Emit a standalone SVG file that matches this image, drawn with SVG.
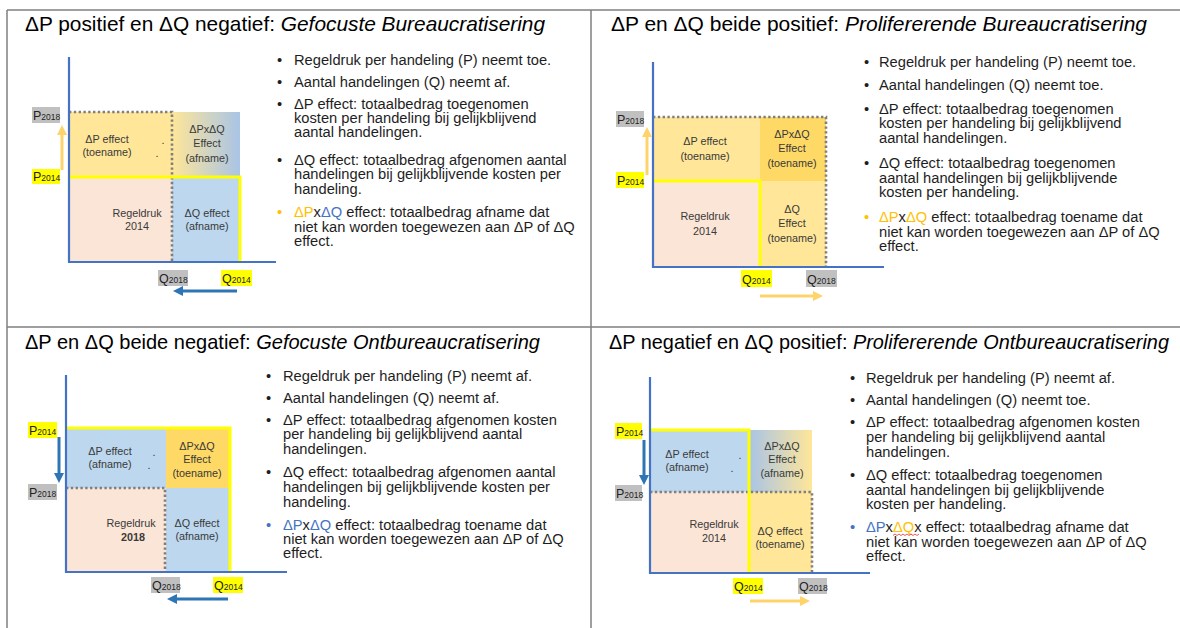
<svg xmlns="http://www.w3.org/2000/svg" width="1180" height="628" viewBox="0 0 1180 628">
<style>
.frame{stroke:#7f7f7f;stroke-width:1.5;fill:none}
.axis{stroke:#4472C4;stroke-width:2.2;fill:none}
.yl{stroke:#FFFF00;stroke-width:3;fill:none}
.dt{stroke:#7F7F7F;stroke-width:2.6;stroke-dasharray:2.4 2.4;fill:none}
.title{font-family:"Liberation Sans",Arial,sans-serif;font-size:21px;fill:#000}
.body{font-family:"Liberation Sans",Arial,sans-serif;font-size:14.7px;fill:#1e1e1e}
.lbl{font-family:"Liberation Sans",Arial,sans-serif;font-size:10.8px;fill:#3a3a3a;text-anchor:middle}
.tag{font-family:"Liberation Sans",Arial,sans-serif;fill:#222}
.big{font-size:12.5px}
.sm{font-size:8.5px}
.gbox{fill:#C0C0C0}
.ybox{fill:#FFFF00}
.peach{fill:#FBE5D6}
.ly{fill:#FFE699}
.dy{fill:#FFD966}
.lb{fill:#BDD7EE}
.ya{stroke:#FFD36B;stroke-width:3;fill:none}
.ba{stroke:#2E75B6;stroke-width:3;fill:none}
.or{fill:#FFC000}
.bl{fill:#4472C4}
</style>
<defs>
<linearGradient id="g1" x1="0" y1="0" x2="1" y2="0"><stop offset="0" stop-color="#FFE699"/><stop offset="1" stop-color="#A9C4E6"/></linearGradient>
<linearGradient id="g4" x1="0" y1="0" x2="1" y2="0"><stop offset="0" stop-color="#A9C4E6"/><stop offset="1" stop-color="#FFE699"/></linearGradient>
<marker id="hy" viewBox="0 0 10 10" refX="2" refY="5" markerWidth="10" markerHeight="11" markerUnits="userSpaceOnUse" orient="auto"><path d="M0,0 L10,5 L0,10 z" fill="#FFD36B"/></marker>
<marker id="hb" viewBox="0 0 10 10" refX="2" refY="5" markerWidth="10" markerHeight="11" markerUnits="userSpaceOnUse" orient="auto"><path d="M0,0 L10,5 L0,10 z" fill="#2E75B6"/></marker>
</defs>

<g id="frame">
<line class="frame" x1="7" y1="10" x2="1180" y2="10"/>
<line class="frame" x1="7" y1="10" x2="7" y2="628"/>
<line class="frame" x1="591" y1="10" x2="591" y2="628"/>
<line class="frame" x1="7" y1="327" x2="1180" y2="327"/>
</g>

<!-- Quadrant 1 -->
<g id="q1">
<text class="title" x="25" y="31" textLength="520" lengthAdjust="spacingAndGlyphs">ΔP positief en ΔQ negatief: <tspan font-style="italic">Gefocuste Bureaucratisering</tspan></text>
<g id="q1-chart">
<rect class="ly" x="69" y="112" width="103" height="65"/>
<rect fill="url(#g1)" x="172" y="112" width="68" height="65"/>
<rect class="peach" x="69" y="177" width="103" height="85"/>
<rect class="lb" x="172" y="177" width="68" height="85"/>
<polyline class="dt" points="69,112 172,112 172,262"/>
<polyline class="yl" points="69,177 240,177 240,262"/>
<polyline class="axis" points="69,57 69,262 276,262"/>
<text class="lbl" x="107" y="143">ΔP effect</text>
<text class="lbl" x="107" y="156">(toename)</text>
<text class="lbl" x="163" y="144">.</text>
<text class="lbl" x="157" y="157">.</text>
<text class="lbl" x="207" y="133">ΔPxΔQ</text>
<text class="lbl" x="207" y="147">Effect</text>
<text class="lbl" x="207" y="162">(afname)</text>
<text class="lbl" x="137" y="217">Regeldruk</text>
<text class="lbl" x="137" y="230">2014</text>
<text class="lbl" x="207" y="217">ΔQ effect</text>
<text class="lbl" x="207" y="230">(afname)</text>
<rect class="gbox" x="32" y="107" width="28" height="16"/>
<text class="tag" x="33" y="120"><tspan class="big">P</tspan><tspan class="sm">2018</tspan></text>
<rect class="ybox" x="32" y="169" width="28" height="15"/>
<text class="tag" x="33" y="181"><tspan class="big">P</tspan><tspan class="sm">2014</tspan></text>
<rect class="gbox" x="158" y="270" width="30" height="16"/>
<text class="tag" x="159" y="283"><tspan class="big">Q</tspan><tspan class="sm">2018</tspan></text>
<rect class="ybox" x="221" y="270" width="31" height="16"/>
<text class="tag" x="222" y="283"><tspan class="big">Q</tspan><tspan class="sm">2014</tspan></text>
</g>
<g id="q1-text" class="body">
<text x="277" y="65">•</text><text x="294" y="65">Regeldruk per handeling (P) neemt toe.</text>
<text x="277" y="87">•</text><text x="294" y="87">Aantal handelingen (Q) neemt af.</text>
<text x="277" y="109">•</text><text x="294" y="109">ΔP effect: totaalbedrag toegenomen</text>
<text x="294" y="123">kosten per handeling bij gelijkblijvend</text>
<text x="294" y="137">aantal handelingen.</text>
<text x="277" y="165">•</text><text x="294" y="165">ΔQ effect: totaalbedrag afgenomen aantal</text>
<text x="294" y="179">handelingen bij gelijkblijvende kosten per</text>
<text x="294" y="194">handeling.</text>
<text x="277" y="217" class="or">•</text><text x="294" y="217"><tspan class="or">ΔP</tspan>x<tspan class="bl">ΔQ</tspan> effect: totaalbedrag afname dat</text>
<text x="294" y="232">niet kan worden toegewezen aan ΔP of ΔQ</text>
<text x="294" y="246">effect.</text>
</g>
</g>

<!-- Quadrant 2 -->
<g id="q2">
<text class="title" x="611" y="31" textLength="536" lengthAdjust="spacingAndGlyphs">ΔP en ΔQ beide positief: <tspan font-style="italic">Prolifererende Bureaucratisering</tspan></text>
<g id="q2-chart">
<rect class="ly" x="653" y="117" width="107" height="64"/>
<rect class="dy" x="760" y="117" width="66" height="64"/>
<rect class="peach" x="653" y="181" width="107" height="86"/>
<rect class="ly" x="760" y="181" width="66" height="86"/>
<polyline class="dt" points="653,117 826,117 826,267"/>
<polyline class="yl" points="653,181 760,181 760,267"/>
<polyline class="axis" points="653,62 653,267 884,267"/>
<text class="lbl" x="705" y="145">ΔP effect</text>
<text class="lbl" x="705" y="160">(toename)</text>
<text class="lbl" x="792" y="138">ΔPxΔQ</text>
<text class="lbl" x="792" y="152">Effect</text>
<text class="lbl" x="792" y="167">(toename)</text>
<text class="lbl" x="705" y="220">Regeldruk</text>
<text class="lbl" x="705" y="235">2014</text>
<text class="lbl" x="792" y="213">ΔQ</text>
<text class="lbl" x="792" y="227">Effect</text>
<text class="lbl" x="792" y="242">(toename)</text>
<rect class="gbox" x="616" y="111" width="28" height="16"/>
<text class="tag" x="617" y="124"><tspan class="big">P</tspan><tspan class="sm">2018</tspan></text>
<rect class="ybox" x="616" y="172" width="28" height="16"/>
<text class="tag" x="617" y="185"><tspan class="big">P</tspan><tspan class="sm">2014</tspan></text>
<rect class="ybox" x="741" y="270" width="31" height="17"/>
<text class="tag" x="742" y="284"><tspan class="big">Q</tspan><tspan class="sm">2014</tspan></text>
<rect class="gbox" x="806" y="270" width="31" height="17"/>
<text class="tag" x="807" y="284"><tspan class="big">Q</tspan><tspan class="sm">2018</tspan></text>
</g>
<g id="q2-text" class="body">
<text x="864" y="67">•</text><text x="879" y="67">Regeldruk per handeling (P) neemt toe.</text>
<text x="864" y="90">•</text><text x="879" y="90">Aantal handelingen (Q) neemt toe.</text>
<text x="864" y="114">•</text><text x="879" y="114">ΔP effect: totaalbedrag toegenomen</text>
<text x="879" y="128">kosten per handeling bij gelijkblijvend</text>
<text x="879" y="143">aantal handelingen.</text>
<text x="864" y="168">•</text><text x="879" y="168">ΔQ effect: totaalbedrag toegenomen</text>
<text x="879" y="183">aantal handelingen bij gelijkblijvende</text>
<text x="879" y="197">kosten per handeling.</text>
<text x="864" y="222" class="or">•</text><text x="879" y="222"><tspan class="or">ΔP</tspan>x<tspan class="or">ΔQ</tspan> effect: totaalbedrag toename dat</text>
<text x="879" y="237">niet kan worden toegewezen aan ΔP of ΔQ</text>
<text x="879" y="251">effect.</text>
</g>
</g>

<!-- Quadrant 3 -->
<g id="q3">
<text class="title" x="25" y="349" textLength="515" lengthAdjust="spacingAndGlyphs">ΔP en ΔQ beide negatief: <tspan font-style="italic">Gefocuste Ontbureaucratisering</tspan></text>
<g id="q3-chart">
<rect class="lb" x="66" y="428" width="100" height="60"/>
<rect class="dy" x="166" y="428" width="64" height="60"/>
<rect class="peach" x="66" y="488" width="100" height="84"/>
<rect class="lb" x="166" y="488" width="64" height="84"/>
<polyline class="dt" points="66,488 165,488 165,572"/>
<polyline class="yl" points="66,428 230,428 230,572"/>
<polyline class="axis" points="66,375 66,572 287,572"/>
<text class="lbl" x="110" y="455">ΔP effect</text>
<text class="lbl" x="110" y="468">(afname)</text>
<text class="lbl" x="154" y="456">.</text>
<text class="lbl" x="149" y="469">.</text>
<text class="lbl" x="197" y="450">ΔPxΔQ</text>
<text class="lbl" x="197" y="463">Effect</text>
<text class="lbl" x="197" y="477">(toename)</text>
<text class="lbl" x="131" y="527">Regeldruk</text>
<text class="lbl" x="133" y="541" font-weight="bold">2018</text>
<text class="lbl" x="197" y="527">ΔQ effect</text>
<text class="lbl" x="197" y="540">(afname)</text>
<rect class="ybox" x="28" y="422" width="29" height="16"/>
<text class="tag" x="29" y="435"><tspan class="big">P</tspan><tspan class="sm">2014</tspan></text>
<rect class="gbox" x="28" y="484" width="29" height="16"/>
<text class="tag" x="29" y="497"><tspan class="big">P</tspan><tspan class="sm">2018</tspan></text>
<rect class="gbox" x="151" y="577" width="29" height="16"/>
<text class="tag" x="152" y="590"><tspan class="big">Q</tspan><tspan class="sm">2018</tspan></text>
<rect class="ybox" x="213" y="577" width="30" height="16"/>
<text class="tag" x="214" y="590"><tspan class="big">Q</tspan><tspan class="sm">2014</tspan></text>
</g>
<g id="q3-text" class="body">
<text x="266" y="381">•</text><text x="283" y="381">Regeldruk per handeling (P) neemt af.</text>
<text x="266" y="403">•</text><text x="283" y="403">Aantal handelingen (Q) neemt af.</text>
<text x="266" y="425">•</text><text x="283" y="425">ΔP effect: totaalbedrag afgenomen kosten</text>
<text x="283" y="439">per handeling bij gelijkblijvend aantal</text>
<text x="283" y="454">handelingen.</text>
<text x="266" y="477">•</text><text x="283" y="477">ΔQ effect: totaalbedrag afgenomen aantal</text>
<text x="283" y="492">handelingen bij gelijkblijvende kosten per</text>
<text x="283" y="507">handeling.</text>
<text x="266" y="530" class="bl">•</text><text x="283" y="530"><tspan class="bl">ΔP</tspan>x<tspan class="bl">ΔQ</tspan> effect: totaalbedrag toename dat</text>
<text x="283" y="544">niet kan worden toegewezen aan ΔP of ΔQ</text>
<text x="283" y="558">effect.</text>
</g>
</g>

<!-- Quadrant 4 -->
<g id="q4">
<text class="title" x="609" y="349" font-size="20.5" textLength="560" lengthAdjust="spacingAndGlyphs">ΔP negatief en ΔQ positief: <tspan font-style="italic">Prolifererende Ontbureaucratisering</tspan></text>
<g id="q4-chart">
<rect class="lb" x="650" y="430" width="99" height="62"/>
<rect fill="url(#g4)" x="749" y="430" width="63" height="62"/>
<rect class="peach" x="650" y="492" width="99" height="81"/>
<rect class="ly" x="749" y="492" width="63" height="81"/>
<polyline class="dt" points="650,492 812,492 812,573"/>
<polyline class="yl" points="650,430 749,430 749,573"/>
<polyline class="axis" points="650,377 650,573 870,573"/>
<text class="lbl" x="687" y="458">ΔP effect</text>
<text class="lbl" x="687" y="471">(afname)</text>
<text class="lbl" x="740" y="459">.</text>
<text class="lbl" x="732" y="472">.</text>
<text class="lbl" x="782" y="450">ΔPxΔQ</text>
<text class="lbl" x="782" y="463">Effect</text>
<text class="lbl" x="782" y="477">(afname)</text>
<text class="lbl" x="714" y="528">Regeldruk</text>
<text class="lbl" x="714" y="542">2014</text>
<text class="lbl" x="780" y="535">ΔQ effect</text>
<text class="lbl" x="780" y="548">(toename)</text>
<rect class="ybox" x="615" y="423" width="27" height="16"/>
<text class="tag" x="616" y="436"><tspan class="big">P</tspan><tspan class="sm">2014</tspan></text>
<rect class="gbox" x="615" y="485" width="27" height="16"/>
<text class="tag" x="616" y="498"><tspan class="big">P</tspan><tspan class="sm">2018</tspan></text>
<rect class="ybox" x="733" y="578" width="30" height="16"/>
<text class="tag" x="734" y="591"><tspan class="big">Q</tspan><tspan class="sm">2014</tspan></text>
<rect class="gbox" x="798" y="578" width="29" height="16"/>
<text class="tag" x="799" y="591"><tspan class="big">Q</tspan><tspan class="sm">2018</tspan></text>
</g>
<g id="q4-text" class="body">
<text x="850" y="383">•</text><text x="866" y="383">Regeldruk per handeling (P) neemt af.</text>
<text x="850" y="405">•</text><text x="866" y="405">Aantal handelingen (Q) neemt toe.</text>
<text x="850" y="427">•</text><text x="866" y="427">ΔP effect: totaalbedrag afgenomen kosten</text>
<text x="866" y="442">per handeling bij gelijkblijvend aantal</text>
<text x="866" y="457">handelingen.</text>
<text x="850" y="480">•</text><text x="866" y="480">ΔQ effect: totaalbedrag toegenomen</text>
<text x="866" y="495">aantal handelingen bij gelijkblijvende</text>
<text x="866" y="509">kosten per handeling.</text>
<text x="850" y="532" class="bl">•</text><text x="866" y="532"><tspan class="bl">ΔP</tspan>x<tspan class="or">ΔQ</tspan>x effect: totaalbedrag afname dat</text>
<text x="866" y="547">niet kan worden toegewezen aan ΔP of ΔQ</text>
<text x="866" y="561">effect.</text>
<path d="M893,535.5 l2,-1.5 l2,1.5 l2,-1.5 l2,1.5 l2,-1.5 l2,1.5 l2,-1.5 l2,1.5 l2,-1.5 l2,1.5 l2,-1.5 l2,1.5 l2,-1.5" fill="none" stroke="#E03030" stroke-width="0.8"/>
</g>
</g>

<g id="connectors">
<line class="ya" x1="62" y1="170" x2="62" y2="133" marker-end="url(#hy)"/>
<line class="ba" x1="237" y1="291" x2="181" y2="291" marker-end="url(#hb)"/>
<line class="ya" x1="647" y1="175" x2="647" y2="135" marker-end="url(#hy)"/>
<line class="ya" x1="760" y1="296" x2="815" y2="296" marker-end="url(#hy)"/>
<line class="ba" x1="59" y1="437" x2="59" y2="475" marker-end="url(#hb)"/>
<line class="ba" x1="228" y1="599" x2="175" y2="599" marker-end="url(#hb)"/>
<line class="ba" x1="644" y1="440" x2="644" y2="477" marker-end="url(#hb)"/>
<line class="ya" x1="750" y1="601" x2="802" y2="601" marker-end="url(#hy)"/>
</g>
</svg>
